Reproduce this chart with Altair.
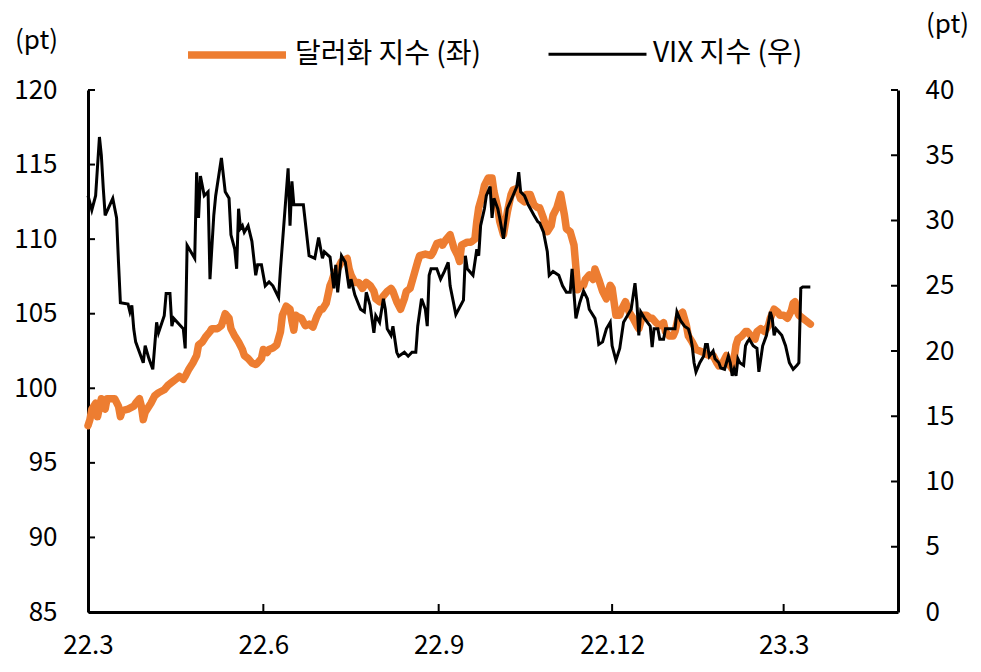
import altair as alt
import pandas as pd

FONT = "Noto Sans CJK KR"
USD_NAME = "달러화 지수 (좌)"
VIX_NAME = "VIX 지수 (우)"
ORANGE = "#ED7D31"

usd_dates = [
    "2022-03-01", "2022-03-02", "2022-03-03", "2022-03-05", "2022-03-06", "2022-03-08", "2022-03-09",
    "2022-03-10", "2022-03-11", "2022-03-13", "2022-03-15", "2022-03-17", "2022-03-18", "2022-03-19",
    "2022-03-22", "2022-03-25", "2022-03-26", "2022-03-28", "2022-03-29", "2022-03-30", "2022-03-31",
    "2022-04-01", "2022-04-03", "2022-04-05", "2022-04-07", "2022-04-10", "2022-04-12", "2022-04-14",
    "2022-04-16", "2022-04-18", "2022-04-20", "2022-04-21", "2022-04-23", "2022-04-25", "2022-04-27",
    "2022-04-28", "2022-04-30", "2022-05-02", "2022-05-04", "2022-05-05", "2022-05-08", "2022-05-10",
    "2022-05-12", "2022-05-14", "2022-05-15", "2022-05-17", "2022-05-19", "2022-05-21", "2022-05-22",
    "2022-05-24", "2022-05-26", "2022-05-28", "2022-05-29", "2022-05-31", "2022-06-01", "2022-06-03",
    "2022-06-04", "2022-06-06", "2022-06-08", "2022-06-10", "2022-06-11", "2022-06-13", "2022-06-15",
    "2022-06-16", "2022-06-17", "2022-06-18", "2022-06-19", "2022-06-21", "2022-06-23", "2022-06-25",
    "2022-06-27", "2022-06-29", "2022-07-01", "2022-07-02", "2022-07-04", "2022-07-06", "2022-07-07",
    "2022-07-08", "2022-07-10", "2022-07-12", "2022-07-15", "2022-07-16", "2022-07-17", "2022-07-19",
    "2022-07-21", "2022-07-23", "2022-07-25", "2022-07-27", "2022-07-29", "2022-07-30", "2022-08-01",
    "2022-08-03", "2022-08-05", "2022-08-07", "2022-08-08", "2022-08-10", "2022-08-12", "2022-08-14",
    "2022-08-15", "2022-08-17", "2022-08-19", "2022-08-21", "2022-08-22", "2022-08-25", "2022-08-28",
    "2022-08-29", "2022-08-31", "2022-09-02", "2022-09-03", "2022-09-05", "2022-09-07", "2022-09-09",
    "2022-09-11", "2022-09-12", "2022-09-13", "2022-09-16", "2022-09-18", "2022-09-20", "2022-09-21",
    "2022-09-22", "2022-09-24", "2022-09-25", "2022-09-27", "2022-09-29", "2022-09-30", "2022-10-02",
    "2022-10-03", "2022-10-05", "2022-10-07", "2022-10-09", "2022-10-10", "2022-10-12", "2022-10-14",
    "2022-10-16", "2022-10-17", "2022-10-19", "2022-10-21", "2022-10-23", "2022-10-24", "2022-10-26",
    "2022-10-28", "2022-10-30", "2022-10-31", "2022-11-02", "2022-11-04", "2022-11-06", "2022-11-07",
    "2022-11-09", "2022-11-11", "2022-11-13", "2022-11-14", "2022-11-16", "2022-11-17", "2022-11-19",
    "2022-11-21", "2022-11-22", "2022-11-24", "2022-11-26", "2022-11-28", "2022-11-30", "2022-12-01",
    "2022-12-03", "2022-12-05", "2022-12-06", "2022-12-08", "2022-12-10", "2022-12-12", "2022-12-14",
    "2022-12-15", "2022-12-17", "2022-12-19", "2022-12-21", "2022-12-22", "2022-12-24", "2022-12-26",
    "2022-12-28", "2022-12-29", "2022-12-31", "2023-01-02", "2023-01-03", "2023-01-05", "2023-01-07",
    "2023-01-09", "2023-01-10", "2023-01-12", "2023-01-14", "2023-01-16", "2023-01-18", "2023-01-19",
    "2023-01-21", "2023-01-23", "2023-01-25", "2023-01-26", "2023-01-28", "2023-01-30", "2023-01-31",
    "2023-02-02", "2023-02-03", "2023-02-04", "2023-02-05", "2023-02-07", "2023-02-09", "2023-02-10",
    "2023-02-12", "2023-02-14", "2023-02-15", "2023-02-17", "2023-02-19", "2023-02-21", "2023-02-22",
    "2023-02-24", "2023-02-26", "2023-02-27", "2023-03-01", "2023-03-03", "2023-03-05", "2023-03-06",
    "2023-03-07", "2023-03-08", "2023-03-09", "2023-03-11", "2023-03-13", "2023-03-14", "2023-03-15",
]
usd_values = [
    97.5, 97.9, 98.6, 99.0, 98.1, 99.3, 99.0,
    98.6, 99.3, 99.3, 99.3, 98.8, 98.1, 98.5,
    98.6, 98.8, 99.0, 99.3, 98.8, 97.9, 98.4,
    98.6, 99.0, 99.5, 99.7, 99.9, 100.2, 100.4,
    100.6, 100.8, 100.6, 100.8, 101.3, 101.7, 102.2,
    102.9, 103.1, 103.5, 103.8, 104.0, 104.0, 104.2,
    105.0, 104.7, 104.0, 103.5, 103.1, 102.6, 102.2,
    102.0, 101.7, 101.6, 101.7, 102.0, 102.6, 102.4,
    102.6, 102.7, 102.9, 103.8, 104.9, 105.5, 105.3,
    104.5, 103.9, 104.9, 104.8, 104.7, 104.2, 104.3,
    104.1, 104.8, 105.3, 105.3, 105.7, 106.9, 107.2,
    107.6, 108.0, 108.5, 108.7, 108.0, 107.6, 107.1,
    107.1, 106.7, 107.1, 106.9, 106.5, 106.0, 105.8,
    106.2, 106.5, 106.7, 106.5, 105.8, 105.3, 106.0,
    106.5, 106.7, 107.6, 108.5, 108.9, 109.0, 108.9,
    109.1, 109.7, 109.8, 109.6, 110.0, 110.3, 109.4,
    108.9, 108.5, 109.6, 109.8, 109.8, 110.0, 111.2,
    112.1, 113.0, 113.6, 114.1, 114.1, 113.2, 112.1,
    111.2, 110.3, 111.8, 113.0, 113.3, 113.4, 112.7,
    112.5, 113.0, 113.0, 112.3, 112.1, 112.1, 111.4,
    110.5, 110.9, 111.6, 112.1, 113.0, 111.6, 110.7,
    110.5, 109.6, 106.6, 106.9, 106.9, 107.3, 107.6,
    107.3, 108.0, 107.3, 106.5, 106.0, 106.9, 106.7,
    104.9, 104.9, 105.3, 105.8, 105.1, 104.7, 104.2,
    104.0, 104.9, 104.9, 104.7, 104.7, 104.4, 104.2,
    104.4, 103.8, 103.5, 103.5, 103.8, 104.9, 105.1,
    104.2, 103.5, 103.1, 102.6, 102.5, 102.4, 102.3,
    102.2, 102.2, 101.7, 101.5, 101.7, 102.2, 101.7,
    101.3, 102.0, 102.9, 103.3, 103.5, 103.8, 103.8,
    103.5, 103.3, 103.8, 104.0, 103.8, 104.2, 104.7,
    105.3, 105.1, 104.9, 104.9, 104.7, 105.2, 105.7,
    105.8, 105.2, 104.9, 104.7, 104.5, 104.4, 104.3,
]

vix_dates = [
    "2022-03-01", "2022-03-03", "2022-03-05", "2022-03-07", "2022-03-08", "2022-03-09", "2022-03-10",
    "2022-03-14", "2022-03-16", "2022-03-17", "2022-03-18", "2022-03-22", "2022-03-23", "2022-03-24",
    "2022-03-25", "2022-03-26", "2022-03-30", "2022-03-31", "2022-04-02", "2022-04-04", "2022-04-06",
    "2022-04-07", "2022-04-10", "2022-04-11", "2022-04-13", "2022-04-14", "2022-04-15", "2022-04-20",
    "2022-04-21", "2022-04-22", "2022-04-26", "2022-04-27", "2022-04-28", "2022-04-29", "2022-05-01",
    "2022-05-03", "2022-05-04", "2022-05-06", "2022-05-07", "2022-05-10", "2022-05-12", "2022-05-14",
    "2022-05-15", "2022-05-17", "2022-05-18", "2022-05-19", "2022-05-20", "2022-05-21", "2022-05-22",
    "2022-05-24", "2022-05-26", "2022-05-28", "2022-05-29", "2022-05-31", "2022-06-02", "2022-06-04",
    "2022-06-06", "2022-06-09", "2022-06-10", "2022-06-14", "2022-06-15", "2022-06-16", "2022-06-17",
    "2022-06-22", "2022-06-25", "2022-06-28", "2022-06-30", "2022-07-02", "2022-07-03", "2022-07-06",
    "2022-07-08", "2022-07-09", "2022-07-10", "2022-07-12", "2022-07-14", "2022-07-16", "2022-07-17",
    "2022-07-19", "2022-07-22", "2022-07-24", "2022-07-25", "2022-07-27", "2022-07-29", "2022-07-30",
    "2022-08-01", "2022-08-03", "2022-08-04", "2022-08-05", "2022-08-07", "2022-08-08", "2022-08-10",
    "2022-08-11", "2022-08-14", "2022-08-16", "2022-08-18", "2022-08-20", "2022-08-21", "2022-08-23",
    "2022-08-25", "2022-08-26", "2022-08-27", "2022-08-28", "2022-08-31", "2022-09-02", "2022-09-04",
    "2022-09-06", "2022-09-07", "2022-09-10", "2022-09-14", "2022-09-15", "2022-09-16", "2022-09-19",
    "2022-09-21", "2022-09-22", "2022-09-23", "2022-09-25", "2022-09-26", "2022-09-28", "2022-09-29",
    "2022-09-30", "2022-10-02", "2022-10-03", "2022-10-05", "2022-10-07", "2022-10-10", "2022-10-12",
    "2022-10-13", "2022-10-14", "2022-10-16", "2022-10-18", "2022-10-21", "2022-10-23", "2022-10-24",
    "2022-10-26", "2022-10-28", "2022-10-29", "2022-10-31", "2022-11-03", "2022-11-05", "2022-11-07",
    "2022-11-09", "2022-11-10", "2022-11-12", "2022-11-14", "2022-11-16", "2022-11-18", "2022-11-19",
    "2022-11-22", "2022-11-23", "2022-11-24", "2022-11-26", "2022-11-28", "2022-11-30", "2022-12-01",
    "2022-12-03", "2022-12-05", "2022-12-06", "2022-12-07", "2022-12-09", "2022-12-11", "2022-12-13",
    "2022-12-14", "2022-12-15", "2022-12-16", "2022-12-18", "2022-12-21", "2022-12-22", "2022-12-23",
    "2022-12-25", "2022-12-26", "2022-12-28", "2022-12-29", "2022-12-31", "2023-01-03", "2023-01-04",
    "2023-01-06", "2023-01-08", "2023-01-10", "2023-01-11", "2023-01-12", "2023-01-13", "2023-01-14",
    "2023-01-16", "2023-01-18", "2023-01-19", "2023-01-20", "2023-01-21", "2023-01-23", "2023-01-24",
    "2023-01-26", "2023-01-27", "2023-01-29", "2023-01-31", "2023-02-01", "2023-02-02", "2023-02-03",
    "2023-02-04", "2023-02-05", "2023-02-06", "2023-02-08", "2023-02-09", "2023-02-10", "2023-02-11",
    "2023-02-13", "2023-02-15", "2023-02-16", "2023-02-18", "2023-02-20", "2023-02-22", "2023-02-23",
    "2023-02-24", "2023-02-25", "2023-02-28", "2023-03-02", "2023-03-04", "2023-03-06", "2023-03-08",
    "2023-03-09", "2023-03-10", "2023-03-11", "2023-03-15",
]
vix_values = [
    31.9, 30.8, 31.9, 36.4, 35.0, 32.5, 30.4,
    31.7, 30.2, 26.8, 23.7, 23.6, 23.0, 23.5,
    21.7, 20.7, 19.1, 20.4, 19.4, 18.6, 22.2,
    21.4, 22.7, 24.4, 24.4, 21.9, 22.5, 21.7,
    20.2, 28.1, 27.1, 33.7, 30.2, 33.4, 31.9,
    32.2, 25.5, 30.4, 31.9, 34.8, 32.2, 31.7,
    28.9, 27.8, 26.3, 30.9, 29.4, 29.6, 29.1,
    29.6, 28.4, 25.8, 26.6, 26.6, 25.0, 25.3,
    25.0, 24.1, 26.3, 34.0, 29.6, 33.0, 31.2,
    31.2, 27.3, 27.1, 28.7, 27.1, 27.6, 27.2,
    24.8, 26.6, 24.5, 27.3, 26.8, 24.8, 25.5,
    24.3, 23.2, 23.0, 24.5, 23.5, 21.4, 22.7,
    22.2, 24.0, 23.2, 21.7, 21.2, 21.9, 19.9,
    19.6, 19.9, 19.6, 19.9, 19.9, 21.9, 24.0,
    23.2, 21.9, 25.8, 26.3, 26.3, 25.5, 26.1,
    26.8, 25.0, 22.8, 23.9, 27.3, 26.3, 25.8,
    27.8, 27.3, 29.6, 30.9, 31.9, 32.6, 30.2,
    31.7, 30.9, 30.2, 28.6, 30.9, 31.9, 32.6,
    33.7, 32.2, 31.9, 31.2, 30.4, 29.9, 29.8,
    29.1, 27.6, 25.8, 26.1, 25.8, 25.0, 24.5,
    24.5, 26.3, 22.5, 23.7, 24.6, 24.0, 23.2,
    22.5, 21.7, 20.5, 20.7, 21.7, 22.2, 20.4,
    19.3, 20.2, 21.2, 22.2, 22.7, 23.2, 25.2,
    23.7, 21.2, 23.0, 22.5, 21.9, 20.3, 21.7,
    21.7, 20.9, 20.9, 21.7, 21.7, 21.7, 23.0,
    22.3, 21.9, 21.7, 21.2, 20.4, 19.1, 18.4,
    19.1, 19.6, 20.5, 20.5, 19.6, 20.0, 19.4,
    19.1, 18.7, 18.6, 19.6, 19.1, 18.1, 18.6,
    18.1, 19.4, 19.1, 18.9, 20.4, 20.7, 20.9,
    20.4, 20.2, 18.4, 20.4, 21.2, 23.0, 22.5,
    21.2, 21.7, 21.2, 20.4, 19.1, 18.6, 18.9,
    19.1, 24.8, 24.9, 24.9,
]

left_ticks = [85, 90, 95, 100, 105, 110, 115, 120]
right_ticks = [0, 5, 10, 15, 20, 25, 30, 35, 40]
x_tick_dates = ["2022-03-01", "2022-06-01", "2022-09-01", "2022-12-01", "2023-03-01"]
series_names = [USD_NAME, VIX_NAME]
series_colors = [ORANGE, "black"]
series_widths = [7.5, 3]

usd_df = pd.DataFrame({"date": pd.to_datetime(usd_dates), "value": usd_values, "series": USD_NAME})
vix_df = pd.DataFrame({"date": pd.to_datetime(vix_dates), "value": vix_values, "series": VIX_NAME})
lt_df = pd.DataFrame({"value": left_ticks})
rt_df = pd.DataFrame({"value": right_ticks})
xt_df = pd.DataFrame({"date": pd.to_datetime(x_tick_dates[1:])})

W, H = 810, 522
LEFT, TOP = 88, 90
AXIS_FS = 26


def dt(s):
    y, m, d = (int(p) for p in s.split("-"))
    return alt.DateTime(year=y, month=m, date=d)


x_scale = alt.Scale(domain=[dt("2022-03-01"), dt("2023-04-30")], nice=False)
x_axis = alt.Axis(
    values=[dt(s) for s in x_tick_dates], format="%y.%-m", title=None, grid=False,
    ticks=False, labelFont=FONT, labelFontSize=AXIS_FS, labelColor="black", labelPadding=20,
    labelFlush=False, labelOverlap=False, domainColor="black", domainWidth=3,
)
yl_scale = alt.Scale(domain=[85, 120], nice=False, zero=False)
yl_axis = alt.Axis(
    orient="left", values=left_ticks, grid=False, ticks=False, labelFont=FONT,
    labelFontSize=AXIS_FS, labelColor="black", labelPadding=31, domainColor="black", domainWidth=3,
    title="(pt)", titleAngle=0, titleX=-52, titleY=-50, titleAlign="center",
    titleBaseline="middle", titleFont=FONT, titleFontSize=AXIS_FS, titleFontWeight="normal",
    titleColor="black",
)
yr_scale = alt.Scale(domain=[0, 40], nice=False)
yr_axis = alt.Axis(
    orient="right", values=right_ticks, grid=False, ticks=False, labelFont=FONT,
    labelFontSize=AXIS_FS, labelColor="black", labelPadding=27, domainColor="black", domainWidth=3,
    title="(pt)", titleAngle=0, titleX=49, titleY=-66, titleAlign="center",
    titleBaseline="middle", titleFont=FONT, titleFontSize=AXIS_FS, titleFontWeight="normal",
    titleColor="black",
)

legend = alt.Legend(
    orient="none", legendX=96, legendY=-88, direction="horizontal", title=None,
    symbolType="stroke", symbolSize=9600, labelFont=FONT, labelFontSize=28,
    labelColor="black", labelOffset=5, labelLimit=0, columnPadding=60, padding=0,
)
color_enc = alt.Color(
    "series:N", scale=alt.Scale(domain=series_names, range=series_colors), legend=legend,
)
width_enc = alt.StrokeWidth(
    "series:N", scale=alt.Scale(domain=series_names, range=series_widths), legend=legend,
)

usd_line = alt.Chart(usd_df).mark_line(strokeCap="round", strokeJoin="round").encode(
    x=alt.X("date:T", scale=x_scale, axis=x_axis),
    y=alt.Y("value:Q", scale=yl_scale, axis=yl_axis),
    color=color_enc,
    strokeWidth=width_enc,
)
left_tick_marks = alt.Chart(lt_df).mark_rule(color="black", strokeWidth=2).encode(
    y=alt.Y("value:Q", scale=yl_scale, axis=yl_axis),
    x=alt.value(0), x2=alt.value(7),
)
bottom_tick_marks = alt.Chart(xt_df).mark_rule(color="black", strokeWidth=2).encode(
    x=alt.X("date:T", scale=x_scale, axis=x_axis),
    y=alt.value(H), y2=alt.value(H - 8),
)

vix_line = alt.Chart(vix_df).mark_line(strokeJoin="miter").encode(
    x=alt.X("date:T", scale=x_scale, axis=x_axis),
    y=alt.Y("value:Q", scale=yr_scale, axis=yr_axis),
    color=color_enc,
    strokeWidth=width_enc,
)
right_tick_marks = alt.Chart(rt_df).mark_rule(color="black", strokeWidth=2).encode(
    y=alt.Y("value:Q", scale=yr_scale, axis=yr_axis),
    x=alt.value(W - 7), x2=alt.value(W),
)

left_layer = alt.layer(usd_line, left_tick_marks, bottom_tick_marks)
right_layer = alt.layer(vix_line, right_tick_marks)

chart = alt.layer(left_layer, right_layer).resolve_scale(y="independent").properties(
    width=W, height=H,
    autosize=alt.AutoSizeParams(type="none"),
    padding={"left": LEFT, "top": TOP, "right": 981 - LEFT - W, "bottom": 672 - TOP - H},
    background="white",
).configure_view(stroke=None)

chart.save("out.html", embed_options={"renderer": "svg", "actions": False})
